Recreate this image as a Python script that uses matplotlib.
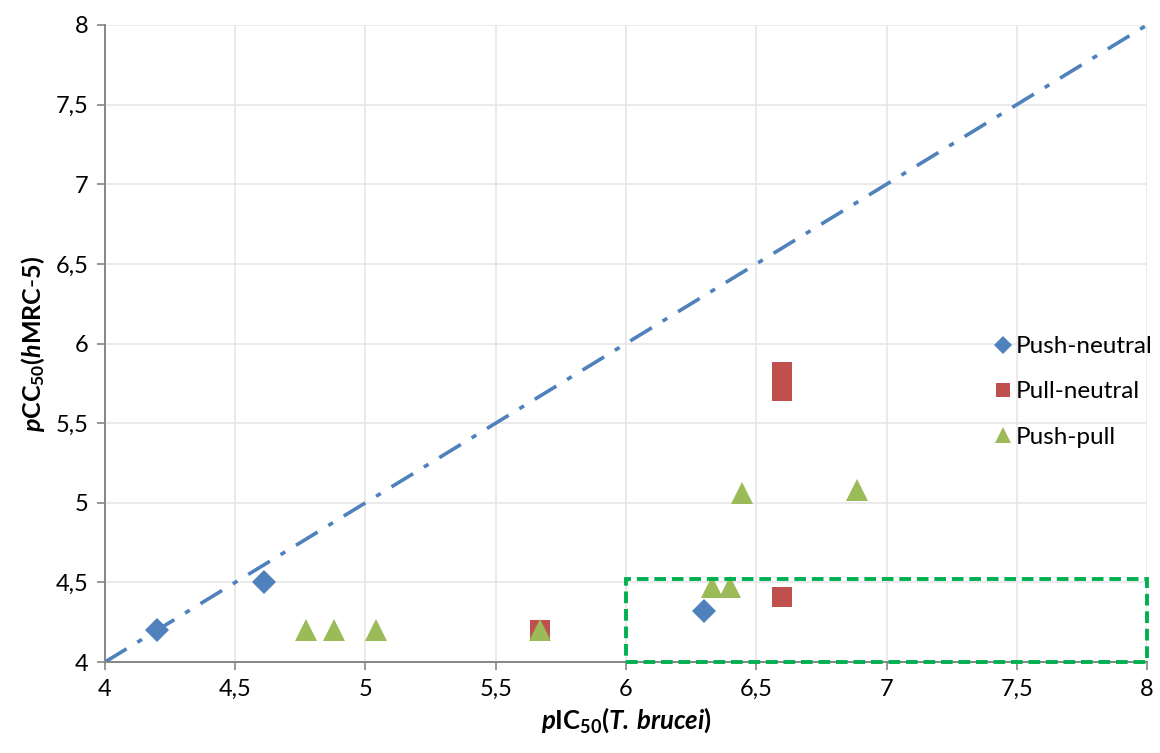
import matplotlib
matplotlib.use("Agg")
import matplotlib.pyplot as plt
from matplotlib.patches import Rectangle
from matplotlib.ticker import FuncFormatter

FONT = "Lato"
plt.rcParams["font.family"] = [FONT, "DejaVu Sans"]
plt.rcParams["mathtext.fontset"] = "custom"
plt.rcParams["mathtext.rm"] = FONT
plt.rcParams["mathtext.bf"] = FONT + ":bold"
plt.rcParams["mathtext.it"] = FONT + ":italic"
plt.rcParams["mathtext.bfit"] = FONT + ":italic:bold"

# data (pIC50 T. brucei, pCC50 hMRC-5)
push_neutral_x = [4.20, 4.61, 6.30]
push_neutral_y = [4.20, 4.50, 4.32]
pull_neutral_x = [5.67, 6.60, 6.60, 6.60]
pull_neutral_y = [4.20, 4.41, 5.70, 5.82]
push_pull_x = [4.77, 4.88, 5.04, 5.67, 6.33, 6.40, 6.445, 6.885]
push_pull_y = [4.20, 4.20, 4.20, 4.20, 4.47, 4.47, 5.06, 5.08]
diag = [4, 8]
box_x, box_y, box_w, box_h = 6.0, 4.0, 2.0, 0.52
ticks = [4, 4.5, 5, 5.5, 6, 6.5, 7, 7.5, 8]

BLUE, RED, GREEN = "#4F81BD", "#C0504D", "#9BBB59"

fig = plt.figure(figsize=(11.6, 7.53), dpi=100)
ax = fig.add_axes([0.0905, 0.1208, 0.8983, 0.846])

ax.plot(diag, diag, color=BLUE, lw=2.6, dashes=(7, 3.5, 1.5, 3.5), zorder=2)
ax.add_patch(Rectangle((box_x, box_y), box_w, box_h, fill=False, ec="#00B050",
                       lw=2.8, ls=(0, (3, 1.5)), zorder=4, clip_on=False))

ax.plot(push_neutral_x, push_neutral_y, "D", color=BLUE, ms=12.5, mew=0,
        ls="none", label="Push-neutral", zorder=3)
ax.plot(pull_neutral_x, pull_neutral_y, "s", color=RED, ms=14, mew=0,
        ls="none", label="Pull-neutral", zorder=3)
ax.plot(push_pull_x, push_pull_y, "^", color=GREEN, ms=16, mew=0,
        ls="none", label="Push-pull", zorder=3)

ax.set_xlim(4, 8)
ax.set_ylim(4, 8)
ax.set_xticks(ticks)
ax.set_yticks(ticks)
fmt = FuncFormatter(lambda v, p: f"{v:g}".replace(".", ","))
ax.xaxis.set_major_formatter(fmt)
ax.yaxis.set_major_formatter(fmt)
ax.tick_params(direction="out", length=6, width=1.2, color="#868686",
               labelsize=17, pad=6)
ax.grid(True, color="#E6E6E6", lw=1.2)
ax.set_axisbelow(True)
for s in ["top", "right"]:
    ax.spines[s].set_visible(False)
for s in ["left", "bottom"]:
    ax.spines[s].set_color("#868686")
    ax.spines[s].set_linewidth(1.4)

ax.set_xlabel(r"$\mathbfit{p}\mathbf{IC_{50}(}\mathbfit{T.\,brucei}\mathbf{)}$",
              fontsize=18.5, labelpad=4)
ax.set_ylabel(r"$\mathbfit{p}\mathbf{CC_{50}(}\mathbfit{h}\mathbf{MRC\text{-}5)}$",
              fontsize=18, labelpad=6)

leg = ax.legend(loc="center left", bbox_to_anchor=(0.852, 0.424), frameon=False,
                fontsize=17.5, handletextpad=0.1, handlelength=0.85,
                labelspacing=1.0, markerscale=0.72, borderaxespad=0,
                borderpad=0)

fig.savefig("out.png", dpi=100)
